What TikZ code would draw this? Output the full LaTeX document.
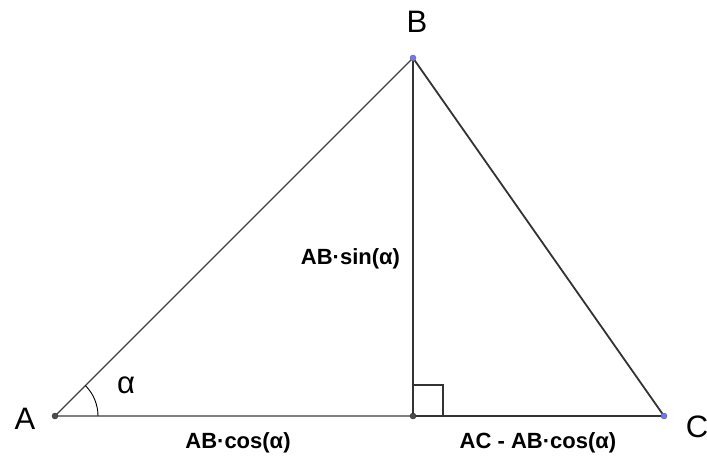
\documentclass[tikz,border=0pt]{standalone}
\usepackage{fontspec}
\setmainfont{Liberation Sans}
\usetikzlibrary{calc}
\begin{document}
\begin{tikzpicture}[x=1pt,y=-1pt,
  vlabel/.style={font=\fontsize{31}{31}\selectfont, inner sep=0pt},
  blabel/.style={font=\bfseries\fontsize{22}{22}\selectfont, inner sep=0pt},
  seg/.style={line width=1.8pt, draw=black!80},
  thinseg/.style={line width=1.3pt, draw=black!75},
  dotdark/.style={circle, fill=black!70, draw=black!80, inner sep=0pt, minimum size=6pt},
  dotblue/.style={circle, fill=blue!55!white, draw=black!60, inner sep=0pt, minimum size=6pt}]
\useasboundingbox (0,0) rectangle (707,459);
\coordinate (A) at (55,416);
\coordinate (B) at (413,58);
\coordinate (C) at (664,416);
\coordinate (D) at (413,416);
% base
\draw[line width=1.8pt, draw=black!50] (A) -- (D);
\draw[seg] (D) -- (C);
% sides
\draw[thinseg] (A) -- (B);
\draw[seg] (B) -- (C);
\draw[seg, line width=2.2pt] (B) -- (D);
% right angle
\draw[line width=1.1pt, draw=black!80] (413,385) -- (443,385) -- (443,416);
% angle arc
\draw[line width=0.9pt] ($(A)+(43,0)$) arc[start angle=0, end angle=-45, radius=43];
% points
\node[dotdark] (pA) at (A) {};
\node[dotblue] (pB) at (B) {};
\node[dotblue] (pC) at (C) {};
\node[dotdark] (pD) at (D) {};
% labels
\node[vlabel] (lA) at (25,419) {A};
\node[vlabel] (lB) at (417,22) {B};
\node[vlabel] (lC) at (697,427) {C};
\node[vlabel] (lalpha) at (126,385) {α};
\node[blabel] (lcos) at (238,443) {AB·cos(α)};
\node[blabel] (ldiff) at (538,443) {AC - AB·cos(α)};
\node[blabel] (lsin) at (350.5,259) {AB·sin(α)};
\end{tikzpicture}
\end{document}
